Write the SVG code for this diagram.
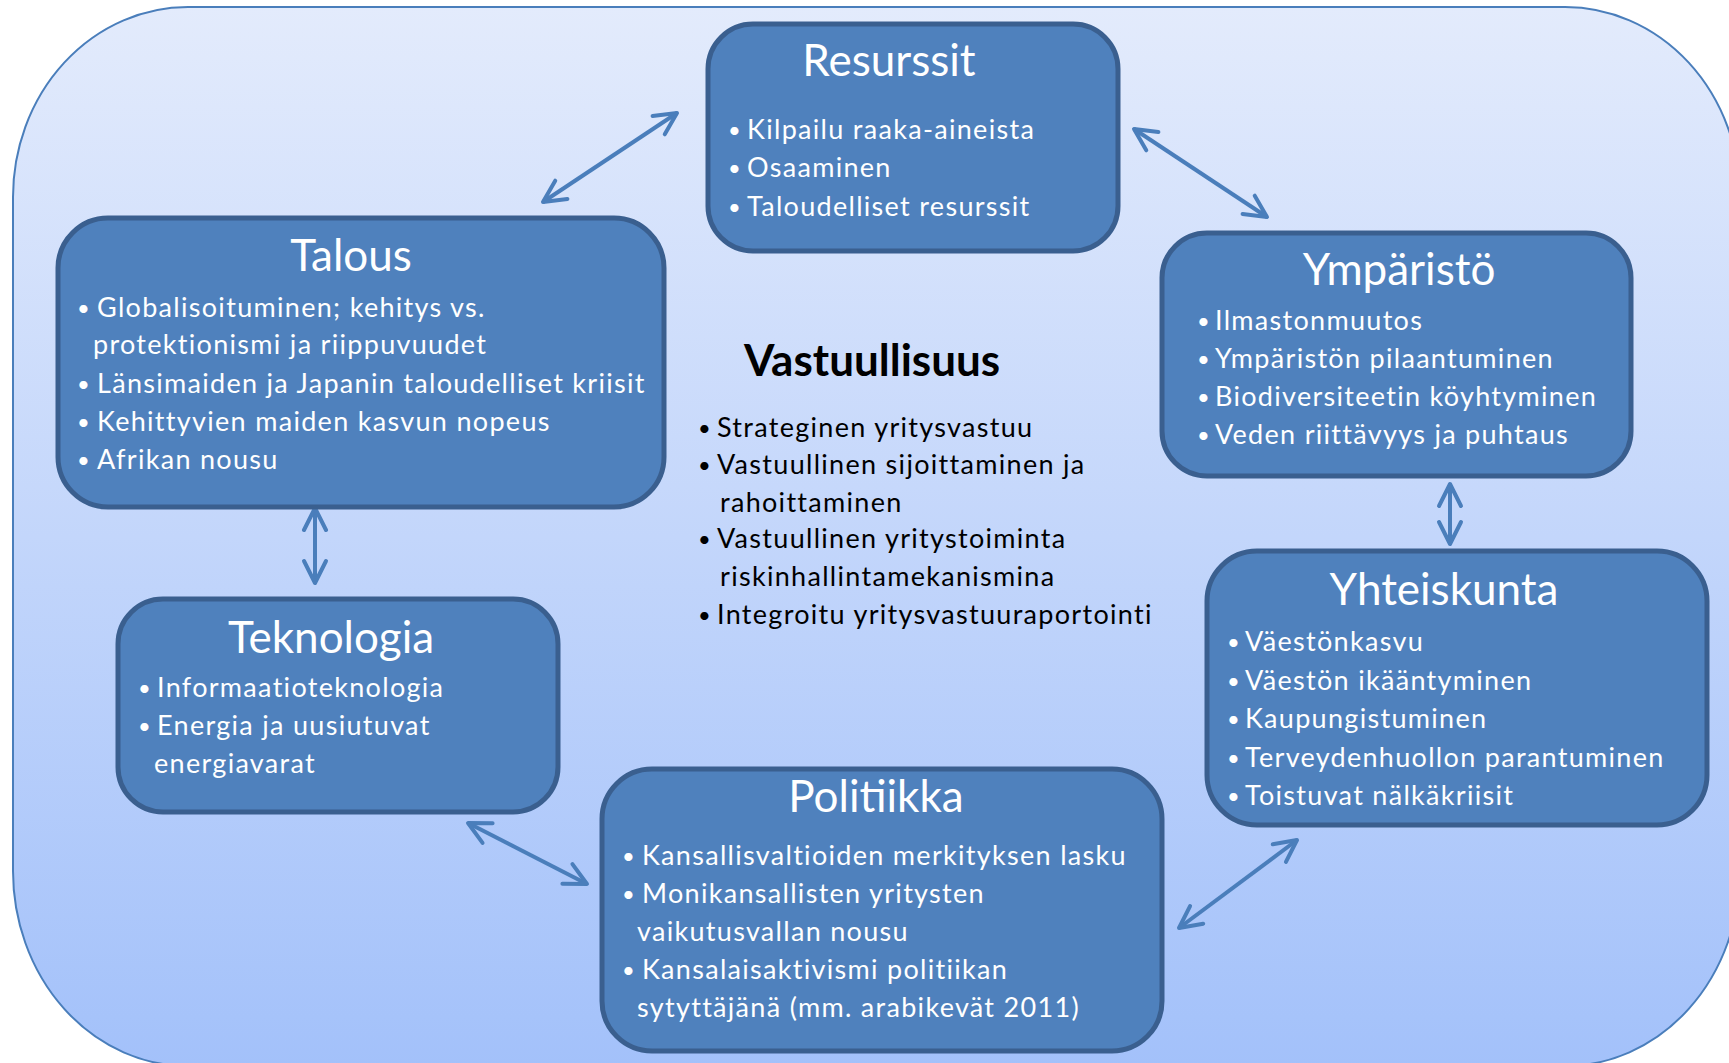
<svg xmlns="http://www.w3.org/2000/svg" width="1729" height="1063" viewBox="0 0 1729 1063">
<defs>
<linearGradient id="bg" x1="0" y1="0" x2="0" y2="1">
<stop offset="0" stop-color="#e3ebfc"/>
<stop offset="1" stop-color="#a3c1fa"/>
</linearGradient>
<marker id="ah" markerUnits="userSpaceOnUse" viewBox="-28 -16 34 32" markerWidth="34" markerHeight="32" refX="0" refY="0" orient="auto-start-reverse">
<path d="M-22,-11 L0,0 L-22,11" fill="none" stroke="#4a7ebb" stroke-width="4" stroke-linecap="round" stroke-linejoin="round"/>
</marker>
</defs>
<style>
.box{fill:#4f81bd;stroke:#3a5f8f;stroke-width:5}
.t{font-family:Lato,"Open Sans","Liberation Sans",sans-serif;fill:#fff;font-size:44px;text-anchor:middle}
.b{font-family:Lato,"Open Sans","Liberation Sans",sans-serif;fill:#fff;font-size:27px;letter-spacing:1.3px}
.k{font-family:Lato,"Open Sans","Liberation Sans",sans-serif;fill:#000;font-size:27px;letter-spacing:1.3px}
.h{font-family:Lato,"Open Sans","Liberation Sans",sans-serif;fill:#000;font-size:44px;font-weight:bold;text-anchor:middle}
.d{font-size:22px;letter-spacing:0}
.c{fill:none;stroke:#4a7ebb;stroke-width:4;marker-start:url(#ah);marker-end:url(#ah)}
</style>
<path d="M188,7 H1565 A175,190 0 0 1 1740,197 V871 A175,195 0 0 1 1565,1066 H188 A175,195 0 0 1 13,871 V197 A175,190 0 0 1 188,7 Z" fill="url(#bg)" stroke="#4a7ebb" stroke-width="2"/>

<g id="connectors">
<line class="c" x1="543" y1="202" x2="677" y2="113"/>
<line class="c" x1="1134" y1="129" x2="1267" y2="217"/>
<line class="c" x1="1450" y1="484" x2="1450" y2="544"/>
<line class="c" x1="315" y1="508" x2="315" y2="583"/>
<line class="c" x1="468" y1="823" x2="587" y2="884"/>
<line class="c" x1="1179" y1="928" x2="1297" y2="840"/>
</g>

<g id="resurssit">
<rect class="box" x="708" y="24" width="410" height="227" rx="45"/>
<text class="t" x="889" y="76">Resurssit</text>
<text class="b"><tspan class="d" x="728" y="138">•</tspan><tspan x="747" y="139">Kilpailu raaka-aineista</tspan><tspan class="d" x="728" y="176">•</tspan><tspan x="747" y="177">Osaaminen</tspan><tspan class="d" x="728" y="215">•</tspan><tspan x="747" y="216">Taloudelliset resurssit</tspan></text>
</g>

<g id="talous">
<rect class="box" x="58" y="218" width="606" height="289" rx="50"/>
<text class="t" x="351" y="271">Talous</text>
<text class="b"><tspan class="d" x="77" y="316">•</tspan><tspan x="97" y="317">Globalisoituminen; kehitys vs.</tspan><tspan x="93" y="354">protektionismi ja riippuvuudet</tspan><tspan class="d" x="77" y="392">•</tspan><tspan x="97" y="393">Länsimaiden ja Japanin taloudelliset kriisit</tspan><tspan class="d" x="77" y="430">•</tspan><tspan x="97" y="431">Kehittyvien maiden kasvun nopeus</tspan><tspan class="d" x="77" y="468">•</tspan><tspan x="97" y="469">Afrikan nousu</tspan></text>
</g>

<g id="ymparisto">
<rect class="box" x="1162" y="233" width="469" height="243" rx="45"/>
<text class="t" x="1399" y="285">Ympäristö</text>
<text class="b"><tspan class="d" x="1197" y="329">•</tspan><tspan x="1215" y="330">Ilmastonmuutos</tspan><tspan class="d" x="1197" y="367">•</tspan><tspan x="1215" y="368">Ympäristön pilaantuminen</tspan><tspan class="d" x="1197" y="405">•</tspan><tspan x="1215" y="406">Biodiversiteetin köyhtyminen</tspan><tspan class="d" x="1197" y="443">•</tspan><tspan x="1215" y="444">Veden riittävyys ja puhtaus</tspan></text>
</g>

<g id="vastuullisuus">
<text class="h" x="872" y="376">Vastuullisuus</text>
<text class="k"><tspan class="d" x="698" y="436">•</tspan><tspan x="717" y="437">Strateginen yritysvastuu</tspan><tspan class="d" x="698" y="473">•</tspan><tspan x="717" y="474">Vastuullinen sijoittaminen ja</tspan><tspan x="720" y="512">rahoittaminen</tspan><tspan class="d" x="698" y="547">•</tspan><tspan x="717" y="548">Vastuullinen yritystoiminta</tspan><tspan x="720" y="586">riskinhallintamekanismina</tspan><tspan class="d" x="698" y="623">•</tspan><tspan x="717" y="624">Integroitu yritysvastuuraportointi</tspan></text>
</g>

<g id="teknologia">
<rect class="box" x="118" y="599" width="440" height="213" rx="45"/>
<text class="t" x="331" y="653">Teknologia</text>
<text class="b"><tspan class="d" x="138" y="696">•</tspan><tspan x="157" y="697">Informaatioteknologia</tspan><tspan class="d" x="138" y="734">•</tspan><tspan x="157" y="735">Energia ja uusiutuvat</tspan><tspan x="154" y="773">energiavarat</tspan></text>
</g>

<g id="politiikka">
<rect class="box" x="602" y="769" width="560" height="282" rx="50"/>
<text class="t" x="876" y="812">Politiikka</text>
<text class="b"><tspan class="d" x="622" y="864">•</tspan><tspan x="642" y="865">Kansallisvaltioiden merkityksen lasku</tspan><tspan class="d" x="622" y="902">•</tspan><tspan x="642" y="903">Monikansallisten yritysten</tspan><tspan x="637" y="941">vaikutusvallan nousu</tspan><tspan class="d" x="622" y="978">•</tspan><tspan x="642" y="979">Kansalaisaktivismi politiikan</tspan><tspan x="637" y="1017">sytyttäjänä (mm. arabikevät 2011)</tspan></text>
</g>

<g id="yhteiskunta">
<rect class="box" x="1207" y="551" width="500" height="274" rx="50"/>
<text class="t" x="1444" y="605">Yhteiskunta</text>
<text class="b"><tspan class="d" x="1227" y="650">•</tspan><tspan x="1245" y="651">Väestönkasvu</tspan><tspan class="d" x="1227" y="689">•</tspan><tspan x="1245" y="690">Väestön ikääntyminen</tspan><tspan class="d" x="1227" y="727">•</tspan><tspan x="1245" y="728">Kaupungistuminen</tspan><tspan class="d" x="1227" y="766">•</tspan><tspan x="1245" y="767">Terveydenhuollon parantuminen</tspan><tspan class="d" x="1227" y="804">•</tspan><tspan x="1245" y="805">Toistuvat nälkäkriisit</tspan></text>
</g>
</svg>
